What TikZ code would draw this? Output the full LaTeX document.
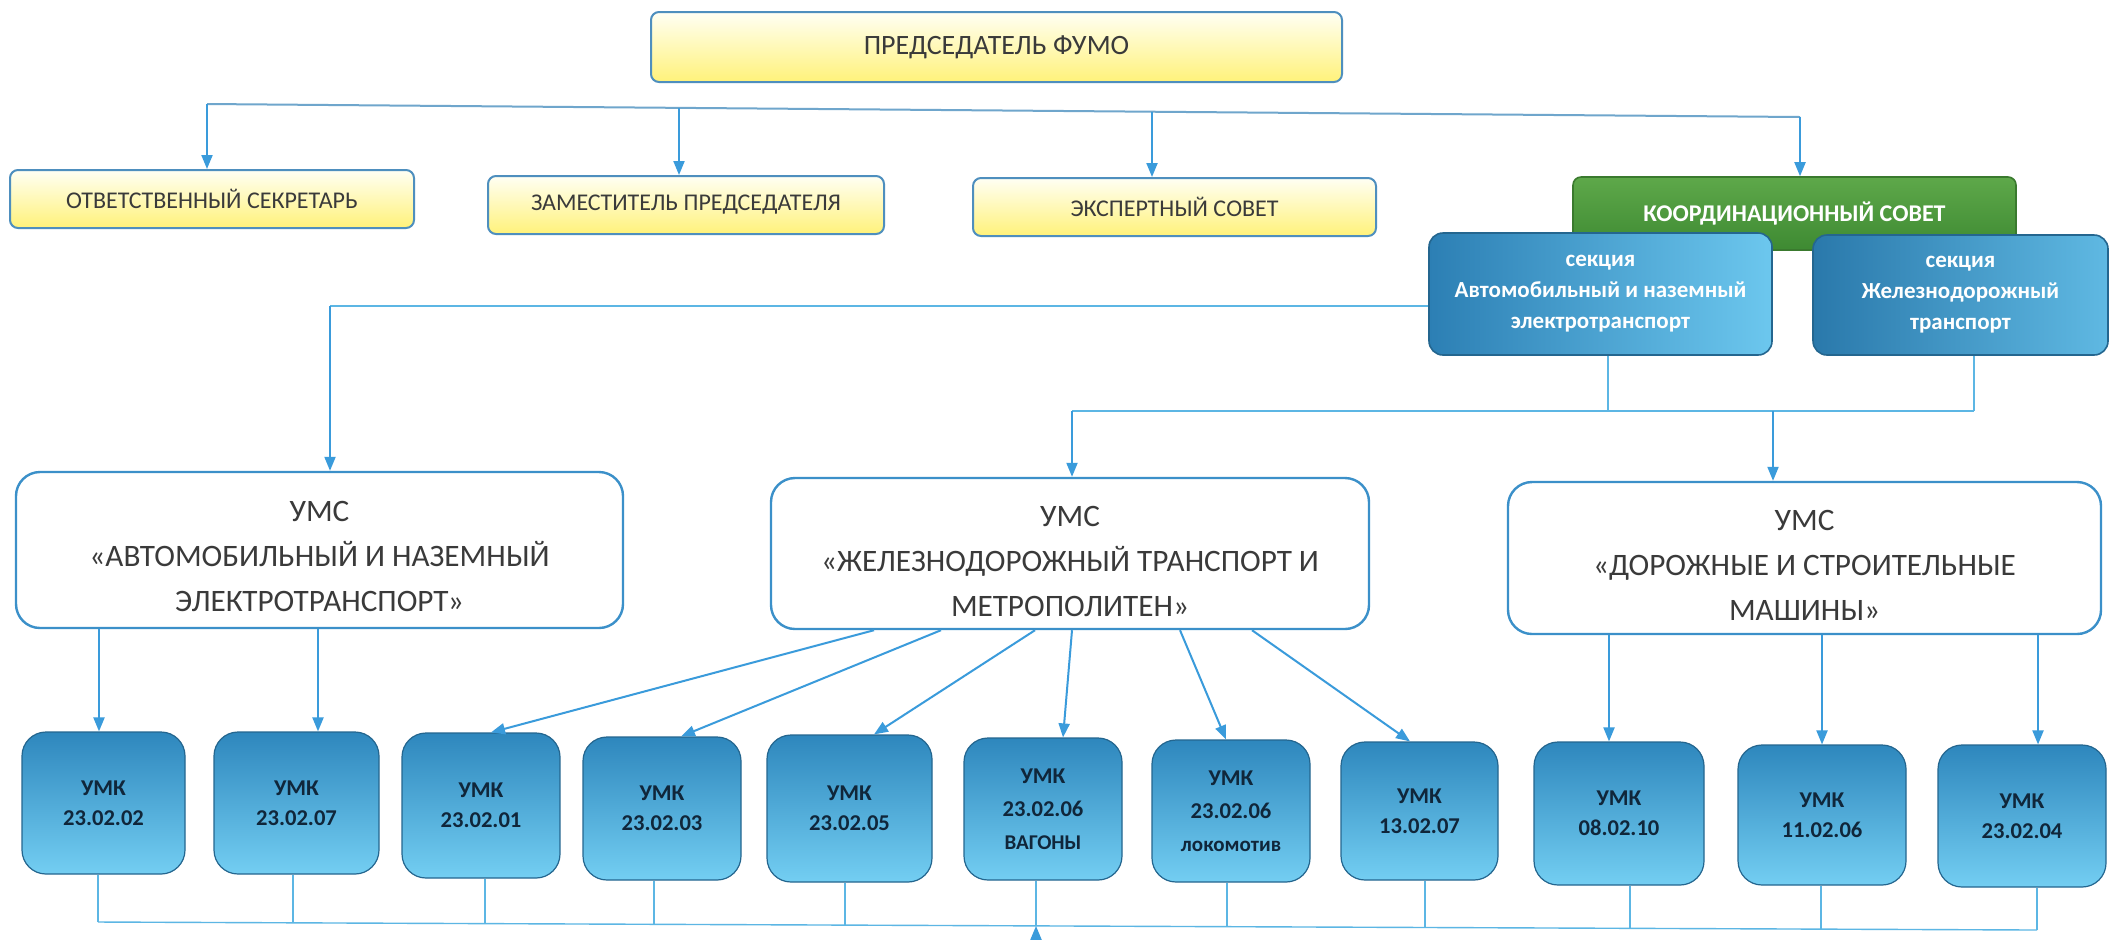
\documentclass[tikz,border=0pt]{standalone}
\usepackage{fontspec}
\setmainfont{Carlito}
\usetikzlibrary{arrows.meta,calc}
\definecolor{lineblue}{HTML}{3A9BDB}
\definecolor{thinblue}{HTML}{5CB6E4}
\definecolor{busgrey}{HTML}{6FA6CC}
\definecolor{yborder}{HTML}{4E8FBE}
\definecolor{ytop}{HTML}{FFFFF4}
\definecolor{ybot}{HTML}{FFF27A}
\definecolor{gtop}{HTML}{5EA84A}
\definecolor{gbot}{HTML}{3E8A32}
\definecolor{gborder}{HTML}{3A7A2E}
\definecolor{bdark}{HTML}{2C7FB4}
\definecolor{blight}{HTML}{6CC7EE}
\definecolor{bborder}{HTML}{24668F}
\definecolor{ktop}{HTML}{2E87BD}
\definecolor{kbot}{HTML}{73CEF2}
\definecolor{umsborder}{HTML}{3B90C9}
\definecolor{txtgrey}{HTML}{3A3A3A}
\definecolor{navy}{HTML}{10263A}
\tikzset{
  ybox/.style={draw=yborder, line width=1pt, rounded corners=4pt, top color=ytop, bottom color=ybot,
    inner sep=0pt, text=txtgrey, font=\fontsize{12}{14}\selectfont},
  gbox/.style={draw=gborder, line width=0.8pt, rounded corners=4pt, top color=gtop, bottom color=gbot,
    inner sep=0pt, text=white, font=\bfseries\fontsize{12}{14}\selectfont},
  sbox/.style={draw=bborder, line width=0.8pt, rounded corners=7pt, left color=bdark, right color=blight,
    inner sep=0pt, text=white, align=center, font=\bfseries\fontsize{11.5}{15.5}\selectfont},
  ums/.style={draw=umsborder, line width=1.2pt, rounded corners=12pt, fill=white, inner sep=0pt},
  umstext/.style={inner sep=0pt, text=txtgrey, align=center, font=\fontsize{15.6}{22.5}\selectfont},
  umk/.style={draw=bborder, line width=0.6pt, rounded corners=12pt, top color=ktop, bottom color=kbot,
    inner sep=0pt, text=navy, align=center, font=\bfseries\fontsize{11.3}{15}\selectfont},
  arr/.style={draw=lineblue, line width=1pt, -{Triangle[length=7pt,width=5.5pt]}},
  thinl/.style={draw=thinblue, line width=0.7pt},
  busl/.style={draw=busgrey, line width=1pt},
}
\begin{document}
\begin{tikzpicture}[x=0.5pt,y=-0.5pt]
\useasboundingbox (0,0) rectangle (2112,939);
\clip (0,0) rectangle (2112,939);
\fill[white] (0,0) rectangle (2112,939);

% top row
\node[ybox, minimum width=345.5pt, minimum height=35pt, font=\fontsize{14}{16}\selectfont] (chair) at (996.5,47) {ПРЕДСЕДАТЕЛЬ ФУМО};
\node[ybox, minimum width=202pt, minimum height=29pt] (sec) at (212,199) {ОТВЕТСТВЕННЫЙ СЕКРЕТАРЬ};
\node[ybox, minimum width=198pt, minimum height=29pt] (dep) at (686,205) {ЗАМЕСТИТЕЛЬ ПРЕДСЕДАТЕЛЯ};
\node[ybox, minimum width=201.5pt, minimum height=29pt] (exp) at (1174.5,207) {ЭКСПЕРТНЫЙ СОВЕТ};
\node[gbox, minimum width=221.5pt, minimum height=36.5pt] (coord) at (1794.5,213.5) {КООРДИНАЦИОННЫЙ СОВЕТ};
\node[sbox, minimum width=171.5pt, minimum height=61pt] (secA) at (1600.5,294) {секция\\Автомобильный и наземный\\электротранспорт};
\node[sbox, left color=bdark!95!black, right color=blight!80!bdark, minimum width=147.5pt, minimum height=60pt] (secB) at (1960.5,295) {секция\\Железнодорожный\\транспорт};

% top bus
\coordinate (t1) at (207,104);
\coordinate (t2) at (679,108);
\coordinate (t3) at (1152,112);
\coordinate (t4) at (1800,117);
\draw[busl] (t1) -- (t4);
\draw[arr] (t1) -- (sec.north -| t1);
\draw[arr] (t2) -- (dep.north -| t2);
\draw[arr] (t3) -- (exp.north -| t3);
\draw[arr] (t4) -- (coord.north -| t4);

% UMS
\node[ums, minimum width=303.5pt, minimum height=78pt] (ums1) at (319.5,550) {};
\node[umstext] (ums1t) at (319.5,556) {УМС\\«АВТОМОБИЛЬНЫЙ И НАЗЕМНЫЙ\\ЭЛЕКТРОТРАНСПОРТ»};
\node[ums, minimum width=299pt, minimum height=75.5pt] (ums2) at (1070,553.5) {};
\node[umstext] (ums2t) at (1070,561) {УМС\\«ЖЕЛЕЗНОДОРОЖНЫЙ ТРАНСПОРТ И\\МЕТРОПОЛИТЕН»};
\node[ums, minimum width=296.5pt, minimum height=76pt] (ums3) at (1804.5,558) {};
\node[umstext] (ums3t) at (1804.5,565) {УМС\\«ДОРОЖНЫЕ И СТРОИТЕЛЬНЫЕ\\МАШИНЫ»};

% sections to UMS
\coordinate (la) at (330,306);
\draw[thinl] (secA.west |- la) -- (la);
\draw[arr] (la) -- (ums1.north -| la);
\coordinate (sa) at (1608,411);
\coordinate (sb) at (1974,411);
\coordinate (b2L) at (1072,411);
\coordinate (b2m) at (1773,411);
\draw[thinl] (secA.south -| sa) -- (sa);
\draw[thinl] (secB.south -| sb) -- (sb);
\draw[thinl] (b2L) -- (sb);
\draw[arr] (b2L) -- (ums2.north -| b2L);
\draw[arr] (b2m) -- (ums3.north -| b2m);

% UMK
\node[umk, minimum width=81.5pt, minimum height=71pt] (k1) at (103.5,803) {УМК\\23.02.02};
\node[umk, minimum width=82.5pt, minimum height=71pt] (k2) at (296.5,803) {УМК\\23.02.07};
\node[umk, minimum width=79pt, minimum height=72.5pt] (k3) at (481,805.5) {УМК\\23.02.01};
\node[umk, minimum width=79pt, minimum height=71.5pt] (k4) at (662,808.5) {УМК\\23.02.03};
\node[umk, minimum width=82.5pt, minimum height=73.5pt] (k5) at (849.5,808.5) {УМК\\23.02.05};
\node[umk, minimum width=79pt, minimum height=71pt, font=\bfseries\fontsize{11.3}{16.5}\selectfont] (k6) at (1043,809) {УМК\\23.02.06\\{\fontsize{10.5}{16.5}\selectfont ВАГОНЫ}};
\node[umk, minimum width=79pt, minimum height=71pt, font=\bfseries\fontsize{11.3}{16.5}\selectfont] (k7) at (1231,811) {УМК\\23.02.06\\{\fontsize{10.5}{16.5}\selectfont локомотив}};
\node[umk, minimum width=78.5pt, minimum height=69pt] (k8) at (1419.5,811) {УМК\\13.02.07};
\node[umk, minimum width=85pt, minimum height=71.5pt] (k9) at (1619,813.5) {УМК\\08.02.10};
\node[umk, minimum width=84pt, minimum height=70pt] (k10) at (1822,815) {УМК\\11.02.06};
\node[umk, minimum width=84pt, minimum height=71pt] (k11) at (2022,816) {УМК\\23.02.04};

% UMS1 -> UMK
\coordinate (a1) at (99,0);
\coordinate (a2) at (318,0);
\draw[arr] (ums1.south -| a1) -- (k1.north -| a1);
\draw[arr] (ums1.south -| a2) -- (k2.north -| a2);

% UMS2 -> UMK (diagonal)
\coordinate (s3) at (874,0);  \coordinate (e3) at (491,0);
\coordinate (s4) at (941,0);  \coordinate (e4) at (681,0);
\coordinate (s5) at (1035,0); \coordinate (e5) at (874,0);
\coordinate (s6) at (1072,0); \coordinate (e6) at (1063,0);
\coordinate (s7) at (1180,0); \coordinate (e7) at (1226,0);
\coordinate (s8) at (1252,0); \coordinate (e8) at (1410,0);
\draw[arr] (ums2.south -| s3) -- (k3.north -| e3);
\draw[arr] (ums2.south -| s4) -- (k4.north -| e4);
\draw[arr] (ums2.south -| s5) -- (k5.north -| e5);
\draw[arr] (ums2.south -| s6) -- (k6.north -| e6);
\draw[arr] (ums2.south -| s7) -- (k7.north -| e7);
\draw[arr] (ums2.south -| s8) -- (k8.north -| e8);

% UMS3 -> UMK
\coordinate (a9) at (1609,0);
\coordinate (a10) at (1822,0);
\coordinate (a11) at (2038,0);
\draw[arr] (ums3.south -| a9) -- (k9.north -| a9);
\draw[arr] (ums3.south -| a10) -- (k10.north -| a10);
\draw[arr] (ums3.south -| a11) -- (k11.north -| a11);

% bottom bus
\coordinate (q1) at (98,922.0);
\coordinate (q2) at (293,922.8);
\coordinate (q3) at (485,923.6);
\coordinate (q4) at (654,924.3);
\coordinate (q5) at (845,925.1);
\coordinate (q6) at (1036,925.9);
\coordinate (q7) at (1227,926.7);
\coordinate (q8) at (1425,927.5);
\coordinate (q9) at (1630,928.3);
\coordinate (q10) at (1821,929.1);
\coordinate (q11) at (2037,930.0);
\draw[thinl] (q1) -- (q11);
\foreach \i in {1,...,11} {
  \draw[thinl] (k\i.south -| q\i) -- (q\i);
}
\coordinate (src) at (1036,975);
\draw[arr] (src) -- (q6);
\end{tikzpicture}
\end{document}
